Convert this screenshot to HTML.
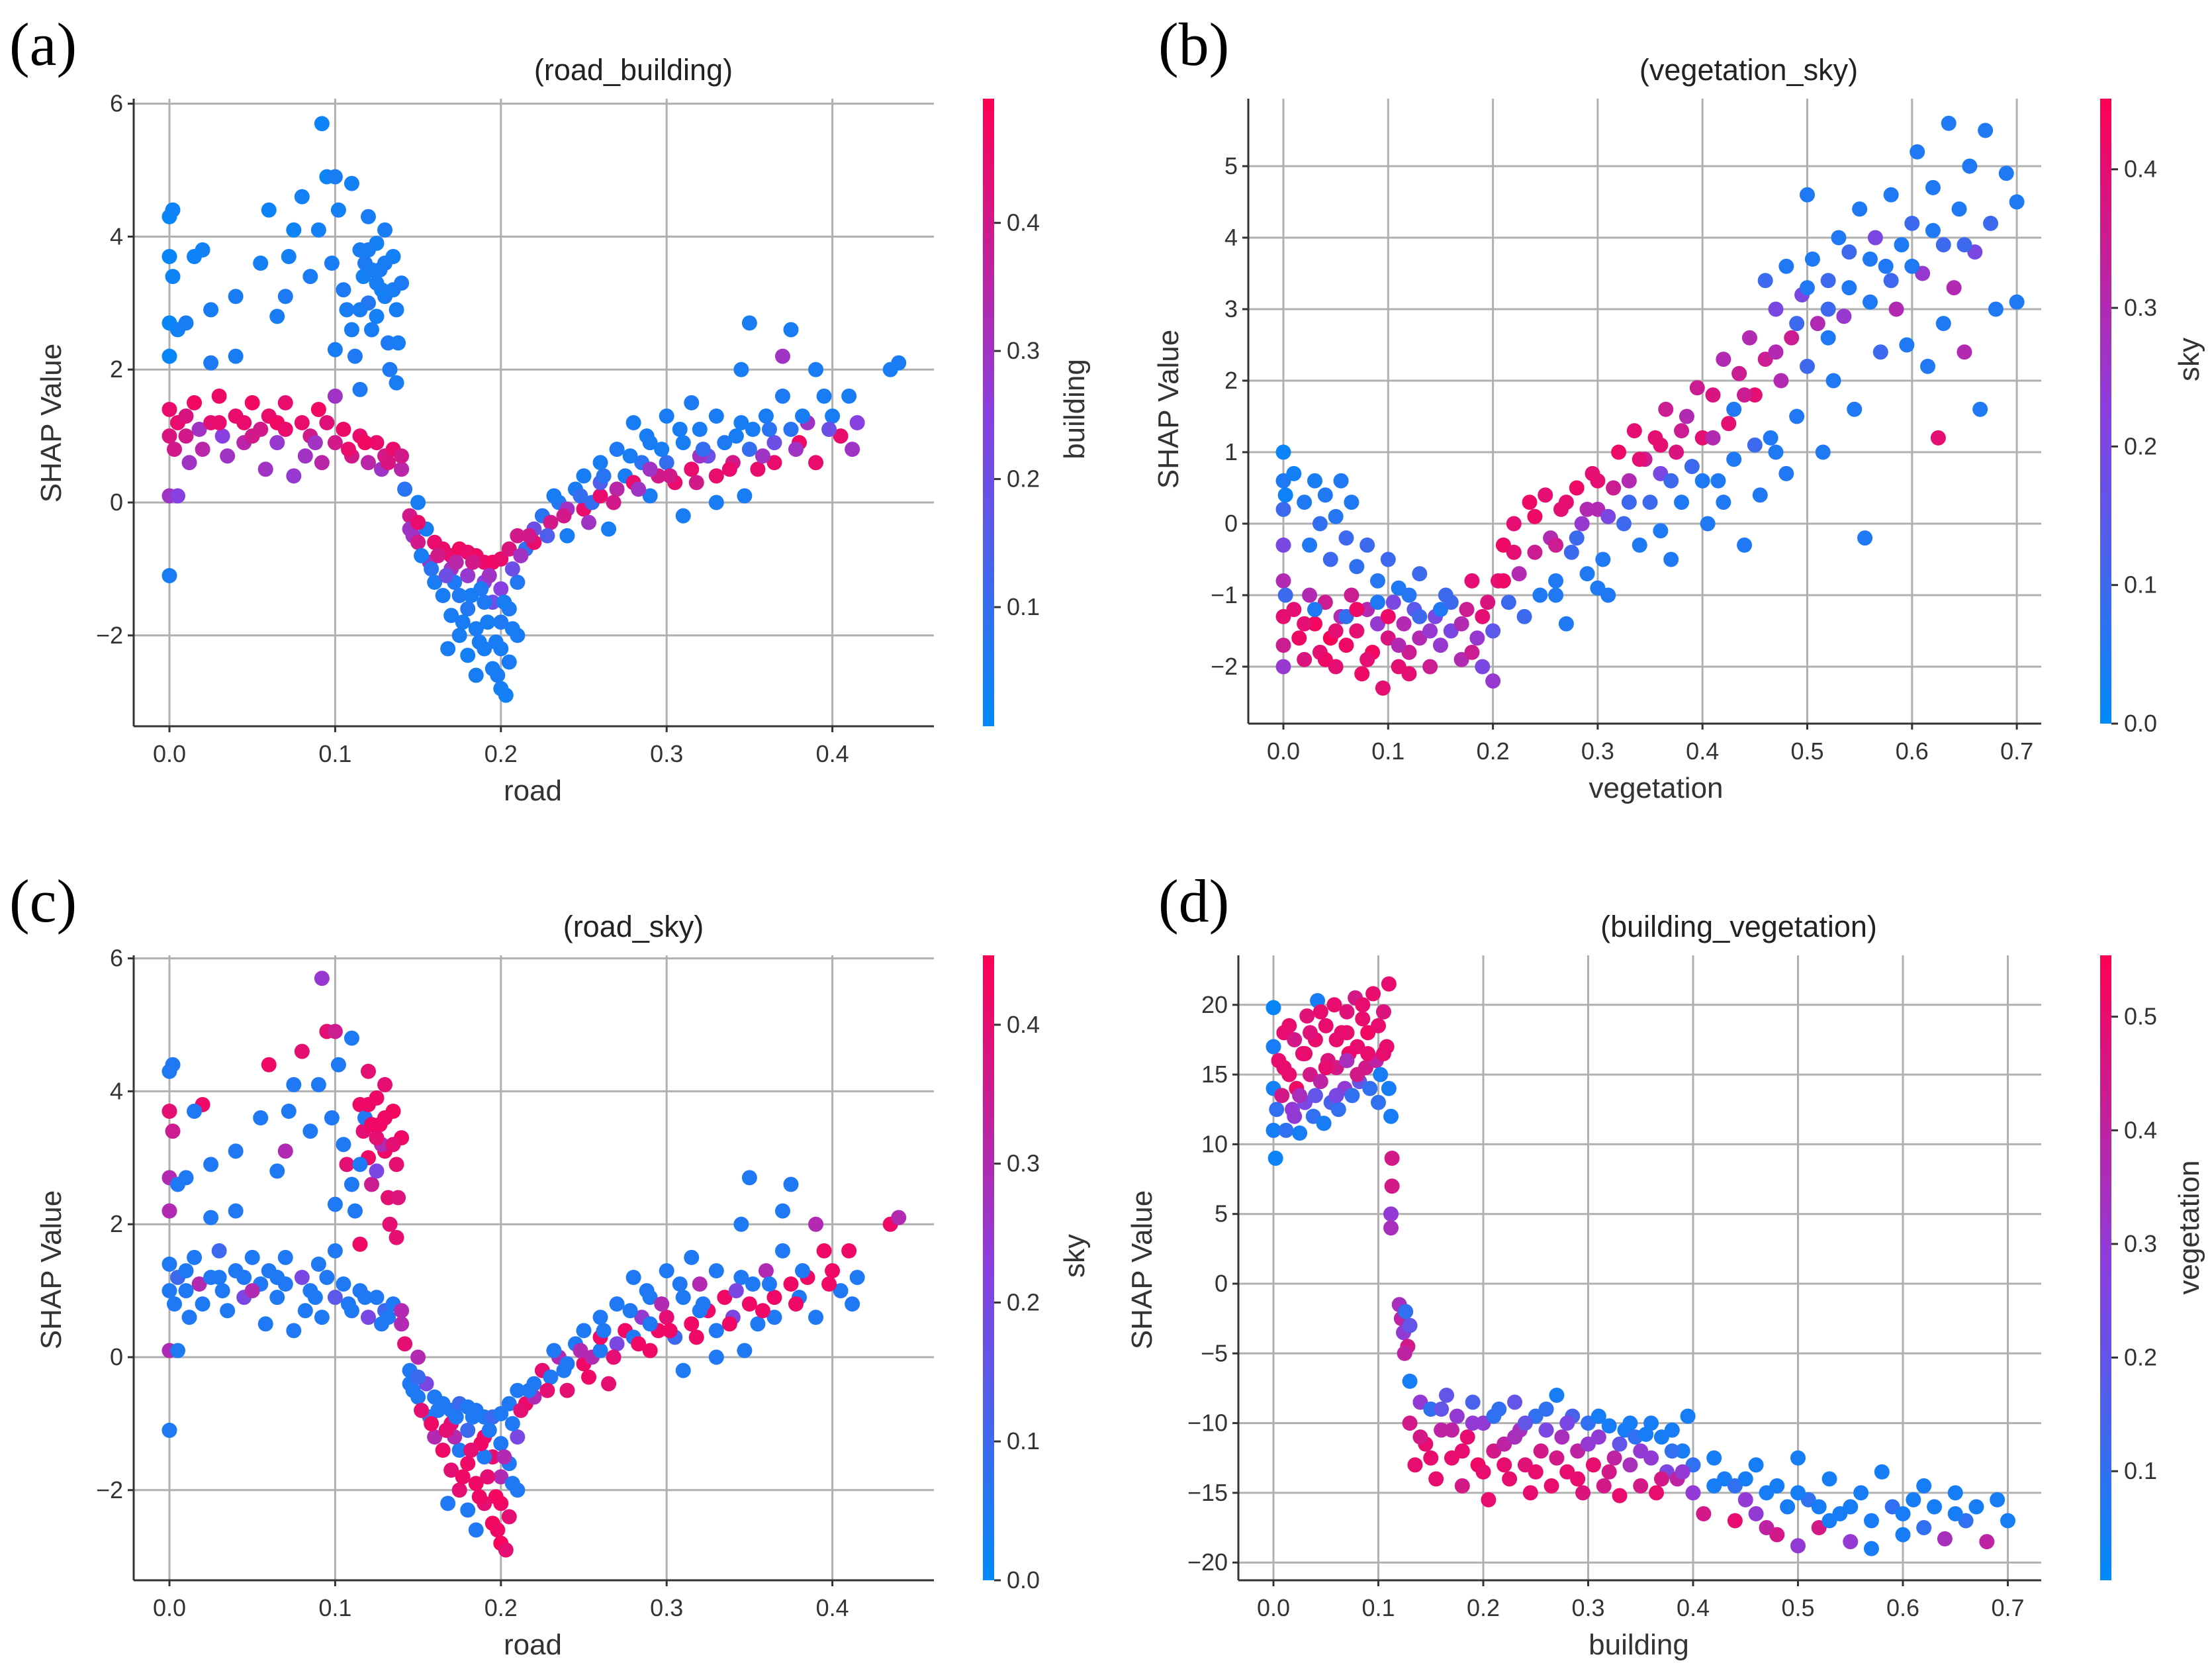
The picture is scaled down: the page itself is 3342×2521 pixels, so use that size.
<!DOCTYPE html>
<html><head><meta charset="utf-8"><style>
html,body{margin:0;padding:0;background:#fff;}
svg{display:block;font-family:"Liberation Sans","DejaVu Sans",sans-serif;}
</style></head><body>
<svg id="fig" width="3342" height="2521" viewBox="0 0 3342 2521" xmlns="http://www.w3.org/2000/svg">
<defs>
<linearGradient id="cmap" x1="0" y1="1" x2="0" y2="0">
<stop offset="0" stop-color="#008afa"/><stop offset="0.5" stop-color="#8a3fe0"/><stop offset="1" stop-color="#ff0052"/>
</linearGradient>
</defs>
<rect width="3342" height="2521" fill="#fff"/>
<text x="14" y="98" font-family="Liberation Serif,serif" font-size="92">(a)</text>
<text x="1750" y="98" font-family="Liberation Serif,serif" font-size="92">(b)</text>
<text x="14" y="1392" font-family="Liberation Serif,serif" font-size="92">(c)</text>
<text x="1750" y="1392" font-family="Liberation Serif,serif" font-size="92">(d)</text>
<g id="root"></g>
</svg>
<script>
// ---- data: [x, shap, colorFeature] ----
const roadBuilding = [
[0.0,4.3,.02],[0.002,4.4,.03],[0.0,3.7,.02],[0.002,3.4,.03],[0.0,2.7,.02],[0.005,2.6,.04],[0.0,2.2,.02],[0.01,2.7,.05],[0.02,3.8,.04],[0.015,3.7,.03],[0.025,2.9,.05],[0.025,2.1,.06],[0.04,3.1,.05],[0.04,2.2,.05],[0.055,3.6,.04],[0.06,4.4,.03],[0.065,2.8,.05],[0.07,3.1,.06],[0.072,3.7,.04],[0.075,4.1,.03],[0.08,4.6,.04],[0.085,3.4,.05],[0.09,4.1,.04],[0.092,5.7,.03],[0.095,4.9,.03],[0.098,3.6,.05],[0.1,4.9,.05],[0.102,4.4,.04],[0.105,3.2,.06],[0.107,2.9,.05],[0.11,4.8,.04],[0.11,2.6,.05],[0.112,2.2,.06],[0.115,3.8,.05],[0.117,3.4,.04],[0.12,4.3,.05],[0.12,3.0,.07],[0.122,2.6,.05],[0.125,3.9,.04],[0.127,3.5,.06],[0.13,4.1,.05],[0.13,3.1,.05],[0.132,2.4,.06],[0.135,3.7,.04],[0.137,2.9,.05],[0.138,2.4,.05],[0.14,3.3,.06],[0.125,2.8,.04],[0.118,3.6,.06],[0.128,3.2,.04],[0.133,2.0,.06],[0.137,1.8,.05],[0.115,1.7,.06],[0.1,2.3,.05],[0.0,-1.1,.05],
[0.0,1.4,.45],[0.0,1.0,.42],[0.003,0.8,.4],[0.005,1.2,.45],[0.01,1.3,.42],[0.015,1.5,.47],[0.018,1.1,.3],[0.02,0.8,.35],[0.025,1.2,.44],[0.03,1.6,.46],[0.032,1.0,.25],[0.035,0.7,.3],[0.04,1.3,.45],[0.045,0.9,.35],[0.05,1.5,.47],[0.055,1.1,.4],[0.058,0.5,.3],[0.06,1.3,.45],[0.065,0.9,.28],[0.07,1.5,.45],[0.075,0.4,.28],[0.08,1.2,.45],[0.082,0.7,.3],[0.085,1.0,.4],[0.09,1.4,.47],[0.092,0.6,.35],[0.095,1.2,.43],[0.1,0.9,.4],[0.1,1.6,.3],[0.105,1.1,.46],[0.11,0.7,.4],[0.115,1.0,.45],[0.12,0.6,.35],[0.125,0.9,.45],[0.13,0.7,.4],[0.135,0.8,.45],[0.14,0.5,.35],[0.0,0.1,.3],[0.005,0.1,.25],[0.012,0.6,.3],[0.045,1.2,.45],[0.065,1.2,.47],[0.118,0.9,.47],[0.128,0.5,.3],
[0.142,0.2,.08],[0.145,-0.2,.4],[0.147,-0.5,.3],[0.15,0.0,.05],[0.15,-0.6,.4],[0.155,-0.4,.05],[0.157,-0.9,.3],[0.16,-0.6,.45],[0.16,-1.2,.05],
[0.165,-0.7,.45],[0.17,-0.8,.45],[0.175,-0.7,.47],[0.18,-0.75,.45],[0.185,-0.8,.46],[0.19,-0.9,.45],[0.195,-0.9,.47],[0.2,-0.85,.45],[0.205,-0.7,.42],[0.21,-0.5,.4],
[0.17,-1.0,.3],[0.18,-1.1,.28],[0.19,-1.2,.25],[0.2,-1.3,.25],[0.195,-1.5,.2],
[0.165,-1.4,.05],[0.17,-1.7,.05],[0.175,-1.4,.06],[0.175,-2.0,.05],[0.18,-1.6,.07],[0.18,-2.3,.04],[0.185,-1.9,.05],[0.19,-1.5,.06],[0.19,-2.2,.05],[0.195,-2.5,.05],[0.2,-1.8,.06],[0.2,-2.2,.05],[0.2,-2.8,.04],[0.205,-2.4,.05],[0.205,-1.6,.06],[0.21,-2.0,.05],[0.21,-1.2,.07],[0.168,-2.2,.05],[0.185,-2.6,.05],[0.198,-2.6,.05],[0.203,-2.9,.04],[0.172,-1.2,.06],[0.188,-1.3,.06],
[0.215,-0.7,.1],[0.22,-0.4,.2],[0.22,-0.6,.45],[0.225,-0.2,.08],[0.23,-0.3,.4],[0.235,0.0,.07],[0.24,-0.5,.05],[0.24,-0.1,.3],[0.245,0.2,.05],[0.25,-0.1,.45],[0.25,0.4,.05],[0.255,0.0,.1],[0.26,0.6,.05],[0.26,0.1,.45],[0.265,-0.4,.05],[0.27,0.8,.06],[0.27,0.2,.35],[0.275,0.4,.05],[0.28,1.2,.05],[0.28,0.3,.45],[0.285,0.6,.08],[0.29,0.1,.05],[0.29,0.9,.05],[0.295,0.4,.4],[0.3,1.3,.05],[0.3,0.6,.1],[0.305,0.3,.45],[0.31,0.9,.05],[0.31,-0.2,.05],[0.315,1.5,.06],[0.315,0.5,.45],[0.32,1.1,.05],[0.325,0.7,.2],[0.33,0.4,.45],[0.33,1.3,.05],[0.335,0.9,.06],[0.34,0.6,.4],[0.345,1.2,.05],[0.345,2.0,.05],[0.35,0.8,.1],[0.35,2.7,.05],[0.355,0.5,.45],[0.36,1.3,.05],[0.365,0.9,.2],[0.365,0.6,.45],[0.37,1.6,.06],[0.37,2.2,.3],[0.375,2.6,.05],[0.375,1.1,.08],[0.38,0.9,.47],[0.385,1.2,.3],[0.39,2.0,.05],[0.39,0.6,.45],[0.395,1.6,.05],[0.4,1.3,.05],[0.405,1.0,.45],[0.41,1.6,.05],[0.412,0.8,.3],[0.415,1.2,.25],[0.435,2.0,.05],[0.44,2.1,.05],[0.347,0.1,.05],[0.33,0.0,.05],[0.26,0.3,.15],[0.29,0.5,.3],[0.32,0.7,.3],
[0.145,-0.4,.3],[0.15,-0.3,.45],[0.152,-0.8,.05],[0.158,-1.0,.08],[0.162,-0.8,.4],[0.167,-1.1,.2],[0.173,-0.9,.35],[0.177,-1.8,.05],[0.182,-1.4,.05],[0.183,-0.9,.4],[0.187,-2.1,.05],[0.192,-1.8,.05],[0.193,-1.1,.3],[0.197,-2.1,.05],[0.202,-1.5,.05],[0.207,-1.9,.05],[0.207,-1.0,.2],[0.212,-0.8,.3],[0.217,-0.5,.4],[0.228,-0.5,.15],[0.232,0.1,.05],[0.238,-0.2,.4],[0.248,0.1,.1],[0.253,-0.3,.3],[0.262,0.4,.08],[0.268,0.0,.4],[0.278,0.7,.05],[0.283,0.2,.3],[0.288,1.0,.05],[0.297,0.8,.05],[0.302,0.4,.4],[0.308,1.1,.05],[0.318,0.3,.4],[0.322,0.8,.1],[0.338,0.5,.45],[0.342,1.0,.05],[0.352,1.1,.05],[0.358,0.7,.3],[0.362,1.1,.08],[0.378,0.8,.3],[0.382,1.3,.05],[0.398,1.1,.2],[0.12,3.8,.05],[0.125,3.3,.05],[0.13,3.6,.05],[0.135,3.2,.05],[0.115,2.9,.05],[0.122,3.5,.05],[0.01,1.0,.4],[0.03,1.2,.45],[0.05,1.0,.4],[0.07,1.1,.45],[0.088,0.9,.3],[0.108,0.8,.45],[0.132,0.6,.42],[0.14,0.7,.4]
];
const roadSky = [
[0.0,4.3,.05],[0.002,4.4,.05],[0.0,3.7,.4],[0.002,3.4,.35],[0.0,2.7,.3],[0.005,2.6,.05],[0.0,2.2,.3],[0.01,2.7,.05],[0.02,3.8,.42],[0.015,3.7,.05],[0.025,2.9,.05],[0.025,2.1,.05],[0.04,3.1,.05],[0.04,2.2,.05],[0.055,3.6,.05],[0.06,4.4,.42],[0.065,2.8,.05],[0.07,3.1,.3],[0.072,3.7,.05],[0.075,4.1,.05],[0.08,4.6,.4],[0.085,3.4,.05],[0.09,4.1,.05],[0.092,5.7,.25],[0.095,4.9,.4],[0.098,3.6,.05],[0.1,4.9,.35],[0.102,4.4,.05],[0.105,3.2,.05],[0.107,2.9,.4],[0.11,4.8,.05],[0.11,2.6,.05],[0.112,2.2,.05],[0.115,3.8,.42],[0.117,3.4,.4],[0.12,4.3,.4],[0.12,3.0,.42],[0.122,2.6,.35],[0.125,3.9,.42],[0.127,3.5,.43],[0.13,4.1,.4],[0.13,3.1,.42],[0.132,2.4,.4],[0.135,3.7,.43],[0.137,2.9,.4],[0.138,2.4,.38],[0.14,3.3,.42],[0.125,2.8,.2],[0.118,3.6,.05],[0.128,3.2,.3],[0.133,2.0,.4],[0.137,1.8,.4],[0.115,1.7,.42],[0.1,2.3,.05],[0.0,-1.1,.05],
[0.0,1.4,.05],[0.0,1.0,.05],[0.003,0.8,.05],[0.005,1.2,.1],[0.01,1.3,.05],[0.015,1.5,.05],[0.018,1.1,.3],[0.02,0.8,.05],[0.025,1.2,.05],[0.03,1.6,.1],[0.032,1.0,.05],[0.035,0.7,.05],[0.04,1.3,.05],[0.045,0.9,.2],[0.05,1.5,.05],[0.055,1.1,.05],[0.058,0.5,.05],[0.06,1.3,.05],[0.065,0.9,.05],[0.07,1.5,.05],[0.075,0.4,.05],[0.08,1.2,.2],[0.082,0.7,.05],[0.085,1.0,.05],[0.09,1.4,.05],[0.092,0.6,.05],[0.095,1.2,.05],[0.1,0.9,.15],[0.1,1.6,.05],[0.105,1.1,.05],[0.11,0.7,.05],[0.115,1.0,.05],[0.12,0.6,.2],[0.125,0.9,.05],[0.13,0.7,.1],[0.135,0.8,.05],[0.14,0.5,.3],[0.0,0.1,.3],[0.005,0.1,.05],[0.012,0.6,.05],[0.045,1.2,.05],[0.065,1.2,.05],[0.118,0.9,.05],[0.128,0.5,.05],
[0.142,0.2,.4],[0.145,-0.2,.05],[0.147,-0.5,.05],[0.15,0.0,.3],[0.15,-0.6,.05],[0.155,-0.4,.2],[0.157,-0.9,.05],[0.16,-0.6,.05],[0.16,-1.2,.3],
[0.165,-0.7,.05],[0.17,-0.8,.05],[0.175,-0.7,.1],[0.18,-0.75,.05],[0.185,-0.8,.05],[0.19,-0.9,.05],[0.195,-0.9,.1],[0.2,-0.85,.05],[0.205,-0.7,.05],[0.21,-0.5,.05],
[0.17,-1.0,.4],[0.18,-1.1,.1],[0.19,-1.2,.42],[0.2,-1.3,.05],[0.195,-1.5,.4],
[0.165,-1.4,.42],[0.17,-1.7,.4],[0.175,-1.4,.05],[0.175,-2.0,.4],[0.18,-1.6,.42],[0.18,-2.3,.05],[0.185,-1.9,.42],[0.19,-1.5,.05],[0.19,-2.2,.4],[0.195,-2.5,.43],[0.2,-1.8,.3],[0.2,-2.2,.42],[0.2,-2.8,.44],[0.205,-2.4,.4],[0.205,-1.6,.05],[0.21,-2.0,.05],[0.21,-1.2,.2],[0.168,-2.2,.05],[0.185,-2.6,.05],[0.198,-2.6,.42],[0.203,-2.9,.4],[0.172,-1.2,.3],[0.188,-1.3,.42],
[0.215,-0.7,.42],[0.22,-0.4,.05],[0.22,-0.6,.3],[0.225,-0.2,.4],[0.23,-0.3,.05],[0.235,0.0,.3],[0.24,-0.5,.4],[0.24,-0.1,.05],[0.245,0.2,.05],[0.25,-0.1,.42],[0.25,0.4,.05],[0.255,0.0,.3],[0.26,0.6,.05],[0.26,0.1,.05],[0.265,-0.4,.4],[0.27,0.8,.05],[0.27,0.2,.2],[0.275,0.4,.42],[0.28,1.2,.05],[0.28,0.3,.05],[0.285,0.6,.25],[0.29,0.1,.42],[0.29,0.9,.05],[0.295,0.4,.42],[0.3,1.3,.05],[0.3,0.6,.4],[0.305,0.3,.1],[0.31,0.9,.05],[0.31,-0.2,.05],[0.315,1.5,.05],[0.315,0.5,.42],[0.32,1.1,.3],[0.325,0.7,.42],[0.33,0.4,.05],[0.33,1.3,.05],[0.335,0.9,.42],[0.34,0.6,.2],[0.345,1.2,.05],[0.345,2.0,.05],[0.35,0.8,.42],[0.35,2.7,.05],[0.355,0.5,.05],[0.36,1.3,.3],[0.365,0.9,.42],[0.365,0.6,.05],[0.37,1.6,.05],[0.37,2.2,.05],[0.375,2.6,.05],[0.375,1.1,.42],[0.38,0.9,.05],[0.385,1.2,.42],[0.39,2.0,.3],[0.39,0.6,.05],[0.395,1.6,.42],[0.4,1.3,.42],[0.405,1.0,.05],[0.41,1.6,.42],[0.412,0.8,.05],[0.415,1.2,.05],[0.435,2.0,.42],[0.44,2.1,.3],[0.347,0.1,.05],[0.33,0.0,.05],[0.26,0.3,.42],[0.29,0.5,.05],[0.32,0.7,.05],
[0.145,-0.4,.05],[0.15,-0.3,.1],[0.152,-0.8,.4],[0.158,-1.0,.42],[0.162,-0.8,.05],[0.167,-1.1,.4],[0.173,-0.9,.05],[0.177,-1.8,.42],[0.182,-1.4,.4],[0.183,-0.9,.05],[0.187,-2.1,.42],[0.192,-1.8,.4],[0.193,-1.1,.05],[0.197,-2.1,.43],[0.202,-1.5,.3],[0.207,-1.9,.05],[0.207,-1.0,.05],[0.212,-0.8,.4],[0.217,-0.5,.05],[0.228,-0.5,.4],[0.232,0.1,.05],[0.238,-0.2,.05],[0.248,0.1,.3],[0.253,-0.3,.42],[0.262,0.4,.05],[0.268,0.0,.4],[0.278,0.7,.05],[0.283,0.2,.42],[0.288,1.0,.05],[0.297,0.8,.3],[0.302,0.4,.42],[0.308,1.1,.05],[0.318,0.3,.42],[0.322,0.8,.05],[0.338,0.5,.42],[0.342,1.0,.2],[0.352,1.1,.05],[0.358,0.7,.42],[0.362,1.1,.05],[0.378,0.8,.42],[0.382,1.3,.05],[0.398,1.1,.42],[0.12,3.8,.42],[0.125,3.3,.4],[0.13,3.6,.42],[0.135,3.2,.4],[0.115,2.9,.05],[0.122,3.5,.42],[0.01,1.0,.05],[0.03,1.2,.05],[0.05,1.0,.3],[0.07,1.1,.05],[0.088,0.9,.05],[0.108,0.8,.05],[0.132,0.6,.05],[0.14,0.7,.3]
];
const vegSky = [
[0,1.0,.02],[0,0.6,.05],[0,0.2,.1],[0,-0.3,.2],[0,-0.8,.3],[0,-1.3,.4],[0,-1.7,.35],[0,-2.0,.25],[0.002,0.4,.02],[0.002,-1.0,.1],
[0.01,0.7,.03],[0.02,0.3,.05],[0.025,-0.3,.05],[0.03,0.6,.04],[0.035,0.0,.08],[0.04,0.4,.05],[0.045,-0.5,.1],[0.05,0.1,.06],[0.055,0.6,.05],[0.06,-0.2,.1],[0.065,0.3,.05],[0.07,-0.6,.08],[0.08,-0.3,.1],[0.09,-0.8,.06],[0.1,-0.5,.1],[0.11,-0.9,.05],[0.13,-0.7,.1],
[0.01,-1.2,.4],[0.015,-1.6,.42],[0.02,-1.9,.38],[0.025,-1.0,.3],[0.03,-1.4,.43],[0.035,-1.8,.4],[0.04,-1.1,.35],[0.045,-1.6,.44],[0.05,-2.0,.4],[0.055,-1.3,.3],[0.06,-1.7,.42],[0.065,-1.0,.35],[0.07,-1.5,.4],[0.075,-2.1,.42],[0.08,-1.2,.3],[0.085,-1.8,.43],[0.09,-1.4,.25],[0.095,-2.3,.4],[0.1,-1.6,.38],[0.105,-1.1,.2],[0.11,-2.0,.4],[0.115,-1.4,.3],[0.12,-1.8,.35],[0.125,-1.2,.15],[0.13,-1.6,.3],[0.14,-2.0,.35],[0.145,-1.3,.2],[0.15,-1.7,.25],[0.155,-1.0,.1],[0.16,-1.5,.2],[0.17,-1.9,.3],[0.175,-1.2,.35],[0.18,-0.8,.4],[0.185,-1.6,.25],[0.19,-2.0,.2],[0.195,-1.1,.38],[0.2,-2.2,.25],[0.2,-1.5,.15],[0.205,-0.8,.4],
[0.03,-1.2,.05],[0.06,-1.3,.08],[0.09,-1.1,.05],[0.12,-1.0,.06],[0.15,-1.2,.05],[0.13,-1.3,.1],
[0.21,-0.3,.42],[0.215,-1.1,.1],[0.22,0.0,.4],[0.225,-0.7,.3],[0.23,-1.3,.1],[0.235,0.3,.42],[0.24,-0.4,.35],[0.245,-1.0,.05],[0.25,0.4,.4],[0.255,-0.2,.3],[0.26,-0.8,.05],[0.265,0.2,.4],[0.27,-1.4,.05],[0.275,-0.4,.1],[0.28,0.5,.42],[0.285,0.0,.25],[0.29,-0.7,.05],[0.295,0.7,.4],[0.3,0.2,.3],[0.305,-0.5,.05],[0.31,-1.0,.05],[0.315,0.5,.35],[0.32,1.0,.42],[0.325,0.0,.1],[0.33,0.6,.3],[0.335,1.3,.4],[0.34,-0.3,.05],[0.345,0.9,.35],[0.35,0.3,.1],[0.355,1.2,.4],[0.36,0.7,.2],[0.365,1.6,.35],[0.37,-0.5,.05],[0.375,1.0,.38],[0.38,0.3,.05],[0.385,1.5,.3],[0.39,0.8,.1],[0.395,1.9,.35],[0.4,1.2,.4],[0.405,0.0,.05],[0.41,1.8,.38],[0.415,0.6,.05],[0.42,2.3,.3],[0.425,1.4,.4],[0.43,0.9,.05],[0.435,2.1,.35],[0.44,-0.3,.05],[0.445,2.6,.3],[0.45,1.8,.4],[0.455,0.4,.05],
[0.46,3.4,.1],[0.46,2.3,.35],[0.465,1.2,.05],[0.47,3.0,.2],[0.475,2.0,.3],[0.48,3.6,.05],[0.48,0.7,.05],[0.485,2.6,.35],[0.49,1.5,.05],[0.495,3.2,.2],[0.5,2.2,.1],[0.5,4.6,.05],[0.505,3.7,.05],[0.51,2.8,.3],[0.515,1.0,.05],[0.52,3.4,.1],[0.525,2.0,.05],[0.53,4.0,.05],[0.535,2.9,.25],[0.54,3.8,.1],[0.545,1.6,.05],[0.55,4.4,.05],[0.555,-0.2,.05],[0.56,3.1,.05],[0.565,4.0,.2],[0.57,2.4,.1],[0.575,3.6,.05],[0.58,4.6,.05],[0.585,3.0,.3],[0.59,3.9,.05],[0.595,2.5,.05],[0.6,4.2,.1],[0.605,5.2,.05],[0.61,3.5,.25],[0.615,2.2,.05],[0.62,4.7,.05],[0.625,1.2,.4],[0.63,3.9,.1],[0.635,5.6,.05],[0.64,3.3,.3],[0.645,4.4,.05],[0.65,2.4,.3],[0.655,5.0,.05],[0.66,3.8,.2],[0.665,1.6,.05],[0.67,5.5,.05],[0.675,4.2,.1],[0.68,3.0,.05],[0.69,4.9,.05],[0.7,4.5,.05],[0.7,3.1,.05],[0.52,2.6,.05],[0.47,1.0,.05],[0.43,1.6,.05],[0.36,-0.1,.05],
[0.02,-1.4,.4],[0.04,-1.9,.42],[0.05,-1.5,.4],[0.07,-1.2,.42],[0.08,-1.9,.4],[0.1,-1.3,.42],[0.11,-1.7,.3],[0.12,-2.1,.4],[0.14,-1.5,.25],[0.16,-1.1,.1],[0.17,-1.4,.3],[0.18,-1.8,.35],[0.19,-1.3,.4],[0.21,-0.8,.42],[0.22,-0.4,.4],[0.24,0.1,.42],[0.26,-0.3,.35],[0.27,0.3,.4],[0.29,0.2,.3],[0.3,0.6,.4],[0.31,0.1,.2],[0.33,0.3,.1],[0.34,0.9,.4],[0.36,1.1,.4],[0.37,0.6,.1],[0.38,1.3,.35],[0.4,0.6,.05],[0.41,1.2,.3],[0.42,0.3,.05],[0.44,1.8,.35],[0.45,1.1,.1],[0.47,2.4,.3],[0.49,2.8,.1],[0.5,3.3,.05],[0.52,3.0,.1],[0.54,3.3,.05],[0.56,3.7,.05],[0.58,3.4,.1],[0.6,3.6,.05],[0.62,4.1,.05],[0.63,2.8,.05],[0.65,3.9,.1],[0.26,-1.0,.05],[0.3,-0.9,.05],[0.28,-0.2,.1]
];
const buildingVeg = [
[0,19.8,.02],[0,17,.05],[0,14,.04],[0,11,.05],[0.002,9,.03],[0.003,12.5,.1],[0.005,16,.5],[0.008,13.5,.45],[0.01,18,.5],[0.012,11,.1],[0.015,15,.5],[0.018,12.5,.3],[0.02,17.5,.45],[0.022,14,.52],[0.025,10.8,.05],[0.028,16.5,.5],[0.03,13,.25],[0.032,19.2,.48],[0.035,15,.45],[0.038,12,.1],[0.04,17.5,.5],[0.042,20.3,.05],[0.045,14.5,.4],[0.048,11.5,.05],[0.05,18.5,.5],[0.052,16,.47],[0.055,13,.15],[0.058,20,.5],[0.06,15.5,.45],[0.062,12.5,.1],[0.065,18,.5],[0.068,14,.3],[0.07,19.5,.48],[0.072,16.5,.52],[0.075,13.5,.1],[0.078,20.5,.45],[0.08,17,.5],[0.082,14.5,.2],[0.085,19,.5],[0.088,15.5,.45],[0.09,18,.52],[0.092,14,.1],[0.095,20.8,.5],[0.098,16,.4],[0.1,18.5,.5],[0.102,15,.05],[0.105,19.5,.47],[0.108,17,.5],[0.11,21.5,.5],[0.11,14,.05],[0.112,12,.05],[0.015,18.5,.5],[0.035,18,.48],[0.06,17.5,.5],[0.025,13.5,.35],[0.07,16,.35],
[0.113,9,.45],[0.113,7,.45],[0.112,5,.3],[0.112,4,.35],
[0.12,-1.5,.35],[0.122,-2.5,.4],[0.124,-3.5,.3],[0.126,-2,.1],[0.128,-4.5,.45],[0.13,-3,.2],[0.125,-5,.4],
[0.13,-7,.05],[0.13,-10,.45],[0.135,-13,.5],[0.14,-8.5,.3],[0.145,-11.5,.5],[0.15,-9,.1],[0.155,-14,.5],[0.16,-10.5,.4],[0.165,-8,.2],[0.17,-12.5,.5],[0.175,-9.5,.3],[0.18,-14.5,.45],[0.185,-11,.5],[0.19,-8.5,.15],[0.195,-13,.52],[0.2,-10,.3],[0.205,-15.5,.5],[0.21,-12,.45],[0.215,-9,.1],[0.22,-11.5,.4],[0.225,-14,.5],[0.23,-8.5,.2],[0.235,-10.5,.35],[0.24,-13,.48],[0.245,-15,.5],[0.25,-9.5,.1],[0.255,-12,.45],[0.26,-10.5,.25],[0.265,-14.5,.5],[0.27,-8,.05],[0.275,-11,.35],[0.28,-13.5,.5],[0.285,-9.5,.15],[0.29,-12,.4],[0.295,-15,.47],[0.3,-10,.1],[0.305,-13,.5],[0.31,-11,.3],[0.315,-14.5,.45],[0.32,-10.2,.05],[0.325,-12.5,.4],[0.33,-15.2,.5],[0.335,-10.5,.05],[0.34,-13,.35],[0.345,-11,.1],[0.35,-14.5,.45],[0.355,-10.8,.05],[0.36,-12.5,.3],[0.365,-15,.5],[0.37,-11,.05],[0.375,-13.5,.25],[0.38,-10.5,.05],[0.385,-14,.4],[0.39,-12,.05],[0.395,-9.5,.05],[0.4,-13,.1],
[0.4,-15,.3],[0.41,-16.5,.45],[0.42,-12.5,.05],[0.43,-14,.05],[0.44,-17,.5],[0.45,-15.5,.3],[0.46,-13,.05],[0.47,-17.5,.4],[0.48,-14.5,.05],[0.49,-16,.05],[0.5,-18.8,.3],[0.5,-12.5,.05],[0.51,-15.5,.1],[0.52,-17.5,.45],[0.53,-14,.05],[0.54,-16.5,.05],[0.55,-18.5,.3],[0.56,-15,.05],[0.57,-17,.05],[0.58,-13.5,.05],[0.59,-16,.1],[0.6,-18,.05],[0.61,-15.5,.05],[0.62,-17.5,.1],[0.63,-16,.05],[0.64,-18.3,.35],[0.65,-15,.05],[0.66,-17,.1],[0.67,-16,.05],[0.68,-18.5,.4],[0.69,-15.5,.05],[0.7,-17,.05],[0.44,-14.5,.1],[0.47,-15,.05],[0.52,-16,.05],[0.48,-18,.45],[0.62,-14.5,.05],[0.57,-19,.05],
[0.01,15.5,.5],[0.02,12,.3],[0.03,16.5,.5],[0.04,13.5,.2],[0.05,15.5,.5],[0.06,13.5,.25],[0.07,18,.5],[0.08,15,.45],[0.09,16.5,.5],[0.1,13,.1],[0.105,16.5,.5],[0.045,19.5,.5],[0.085,20,.5],[0.14,-11,.45],[0.15,-12.5,.5],[0.16,-9,.2],[0.17,-10.5,.4],[0.18,-12,.5],[0.19,-10,.3],[0.2,-13.5,.5],[0.21,-9.5,.1],[0.22,-13,.5],[0.23,-11,.35],[0.24,-10,.2],[0.25,-13.5,.5],[0.26,-9,.1],[0.27,-12.5,.45],[0.28,-10,.25],[0.29,-14,.5],[0.3,-11.5,.3],[0.31,-9.5,.05],[0.32,-13.5,.45],[0.33,-11.5,.2],[0.34,-10,.05],[0.35,-12,.3],[0.36,-10,.05],[0.37,-14,.45],[0.38,-12,.1],[0.39,-13.5,.3],[0.42,-14.5,.05],[0.45,-14,.05],[0.5,-15,.05],[0.55,-16,.05],[0.6,-16.5,.05],[0.65,-16.5,.05],[0.53,-17,.05],[0.46,-16.5,.3]
];
const xTicksRoad = [0,0.1,0.2,0.3,0.4];
const xTicksWide = [0,0.1,0.2,0.3,0.4,0.5,0.6,0.7];
const yTicksRoad = [-2,0,2,4,6];
const yTicksVeg = [-2,-1,0,1,2,3,4,5];
const yTicksBld = [-20,-15,-10,-5,0,5,10,15,20];
const cTicksA = [0.1,0.2,0.3,0.4];
const cTicksB = [0,0.1,0.2,0.3,0.4];
const cTicksD = [0.1,0.2,0.3,0.4,0.5];

const NS = "http://www.w3.org/2000/svg";
const root = document.getElementById('root');
function mk(tag, attrs, parent){
  const e = document.createElementNS(NS, tag);
  for (const k in attrs) e.setAttribute(k, attrs[k]);
  (parent||root).appendChild(e);
  return e;
}
function lerp(a,b,t){return Math.round(a+(b-a)*t);}
function cmap(t){
  t=Math.max(0,Math.min(1,t));
  const A=[0,138,250],M=[138,63,224],B=[255,0,82];
  let c;
  if(t<0.5){const u=t/0.5;c=[lerp(A[0],M[0],u),lerp(A[1],M[1],u),lerp(A[2],M[2],u)];}
  else{const u=(t-0.5)/0.5;c=[lerp(M[0],B[0],u),lerp(M[1],B[1],u),lerp(M[2],B[2],u)];}
  return 'rgb('+c.join(',')+')';
}
function fmt(v){return v<0?'\u2212'+Math.abs(v):String(v);}

function panel(cfg){
  const g = mk('g',{});
  
  
  const X = v => cfg.x0 + v*cfg.xs;
  const Y = v => cfg.y0 - v*cfg.ys;
  cfg.xt.forEach(t=>{
    const l = mk('line',{x1:X(t),x2:X(t),y1:cfg.top,y2:cfg.bot,stroke:'#b0b0b0','stroke-width':3},g);
    
    
  });
  cfg.yt.forEach(t=>{
    const l = mk('line',{x1:cfg.left,x2:cfg.right,y1:Y(t),y2:Y(t),stroke:'#b0b0b0','stroke-width':3},g);
    
    
  });
  const pts = mk('g',{},g);
  
  
  cfg.data.forEach(d=>{
    const c = mk('circle',{cx:X(d[0]),cy:Y(d[1]),r:11.5,fill:cmap((d[2]-cfg.cmin)/(cfg.cmax-cfg.cmin))},pts);
    
    
  });
  const sl = mk('line',{x1:cfg.left,x2:cfg.left,y1:cfg.top,y2:cfg.bot,stroke:'#333','stroke-width':3},g);
  
  
  const sb = mk('line',{x1:cfg.left,x2:cfg.right,y1:cfg.bot,y2:cfg.bot,stroke:'#333','stroke-width':3},g);
  
  
  cfg.xt.forEach(t=>{
    mk('line',{x1:X(t),x2:X(t),y1:cfg.bot,y2:cfg.bot+9,stroke:'#333','stroke-width':3},g);
    const tx = mk('text',{x:X(t),y:cfg.bot+54,'text-anchor':'middle','font-size':36,fill:'#333'},g);
    
    
    tx.textContent = t.toFixed(1);
  });
  cfg.yt.forEach(t=>{
    mk('line',{x1:cfg.left-9,x2:cfg.left,y1:Y(t),y2:Y(t),stroke:'#333','stroke-width':3},g);
    const tx = mk('text',{x:cfg.left-16,y:Y(t)+12,'text-anchor':'end','font-size':36,fill:'#333'},g);
    
    
    tx.textContent = fmt(t);
  });
  const tt = mk('text',{x:cfg.titleX,y:cfg.top-28,'text-anchor':'middle','font-size':45,fill:'#222'},g);
  
  
  tt.textContent = cfg.title;
  const xl = mk('text',{x:cfg.xlabX,y:cfg.bot+112,'text-anchor':'middle','font-size':44,fill:'#333'},g);
  
  
  xl.textContent = cfg.xlab;
  const yl = mk('text',{x:0,y:0,'text-anchor':'middle','font-size':44,fill:'#333',transform:'translate('+cfg.ylabX+','+cfg.ylabY+') rotate(-90)'},g);
  
  
  yl.textContent = 'SHAP Value';
  const cb = mk('rect',{x:cfg.cbx,y:cfg.top,width:17,height:cfg.bot-cfg.top,fill:'url(#cmap)'},g);
  
  
  const CY = v => cfg.bot - (v-cfg.cmin)/(cfg.cmax-cfg.cmin)*(cfg.bot-cfg.top);
  cfg.ct.forEach(t=>{
    mk('line',{x1:cfg.cbx+17,x2:cfg.cbx+27,y1:CY(t),y2:CY(t),stroke:'#333','stroke-width':3},g);
    const tx = mk('text',{x:cfg.cbx+36,y:CY(t)+12,'font-size':36,fill:'#333'},g);
    
    
    tx.textContent = t.toFixed(1);
  });
  const cl = mk('text',{x:0,y:0,'text-anchor':'middle','font-size':44,fill:'#333',transform:'translate('+cfg.clabX+','+cfg.clabY+') rotate(-90)'},g);
  
  
  cl.textContent = cfg.clab;
}

panel({name:'panel-road-building',data:roadBuilding,x0:256,xs:2504,y0:759,ys:100.4,left:202,right:1411,top:149,bot:1097,
  xt:xTicksRoad,yt:yTicksRoad,title:'(road_building)',titleX:957,xlab:'road',xlabX:805,ylabX:92,ylabY:639,
  cbx:1485,cmin:0.007,cmax:0.497,ct:cTicksA,clab:'building',clabX:1638,clabY:618});
panel({name:'panel-vegetation-sky',data:vegSky,x0:1939,xs:1583,y0:791,ys:108,left:1886,right:3084,top:149,bot:1093,
  xt:xTicksWide,yt:yTicksVeg,title:'(vegetation_sky)',titleX:2642,xlab:'vegetation',xlabX:2502,ylabX:1780,ylabY:618,
  cbx:3173,cmin:0,cmax:0.451,ct:cTicksB,clab:'sky',clabX:3322,clabY:543});
panel({name:'panel-road-sky',data:roadSky,x0:256,xs:2504,y0:2050,ys:100.4,left:202,right:1411,top:1443,bot:2387,
  xt:xTicksRoad,yt:yTicksRoad,title:'(road_sky)',titleX:957,xlab:'road',xlabX:805,ylabX:92,ylabY:1918,
  cbx:1485,cmin:0,cmax:0.45,ct:cTicksB,clab:'sky',clabX:1638,clabY:1897});
panel({name:'panel-building-vegetation',data:buildingVeg,x0:1924,xs:1585,y0:1939,ys:21.06,left:1871,right:3084,top:1443,bot:2387,
  xt:xTicksWide,yt:yTicksBld,title:'(building_vegetation)',titleX:2627,xlab:'building',xlabX:2476,ylabX:1740,ylabY:1918,
  cbx:3173,cmin:0.004,cmax:0.554,ct:cTicksD,clab:'vegetation',clabX:3322,clabY:1854});
</script>
</body></html>
